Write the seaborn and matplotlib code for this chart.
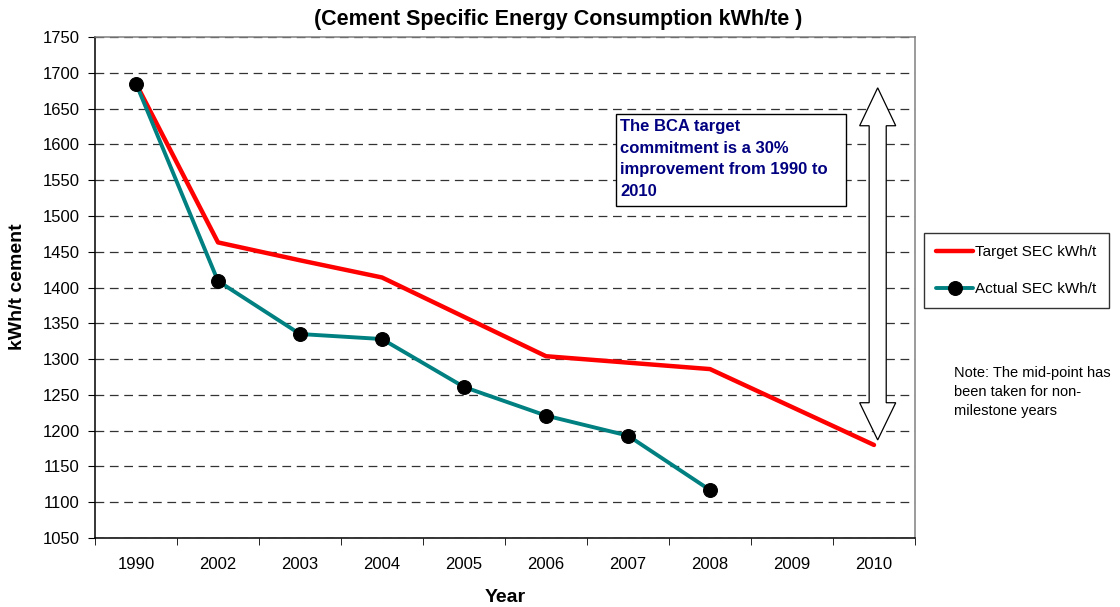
import pandas as pd
import matplotlib
matplotlib.use('Agg')
import matplotlib.pyplot as plt
import seaborn as sns
from matplotlib.patches import Polygon, Rectangle
from matplotlib.ticker import MultipleLocator, FixedLocator

years = ['1990', '2002', '2003', '2004', '2005', '2006', '2007', '2008', '2009', '2010']
target_sec = [1685, 1463, 1438, 1414, 1359, 1304, 1295, 1286, 1233, 1180]
actual_years = ['1990', '2002', '2003', '2004', '2005', '2006', '2007', '2008']
actual_sec = [1685, 1409, 1335, 1328, 1261, 1221, 1193, 1117]

df_target = pd.DataFrame({'Year': years, 'SEC': target_sec})
df_actual = pd.DataFrame({'Year': actual_years, 'SEC': actual_sec})

sns.set_style('white')
plt.rcParams['font.family'] = ['Liberation Sans', 'DejaVu Sans']
plt.rcParams['text.color'] = 'black'
plt.rcParams['xtick.color'] = 'black'
plt.rcParams['ytick.color'] = 'black'

fig = plt.figure(figsize=(11.2, 6.07), dpi=100)
ax = fig.add_axes([95 / 1120, 1 - 538 / 607, 820 / 1120, 501 / 607])

sns.lineplot(data=df_target, x='Year', y='SEC', color='#FF0000', lw=3.2,
             sort=False, label='Target SEC kWh/t', ax=ax)
sns.lineplot(data=df_actual, x='Year', y='SEC', color='#008080', lw=2.8,
             marker='o', markersize=10, markerfacecolor='black',
             markeredgecolor='black', sort=False, label='Actual SEC kWh/t', ax=ax)

ax.set_xlim(-0.5, len(years) - 0.5)
ax.set_ylim(1050, 1750)
ax.yaxis.set_major_locator(MultipleLocator(50))
ax.xaxis.set_minor_locator(FixedLocator([i - 0.5 for i in range(len(years) + 1)]))
ax.tick_params(axis='x', which='major', length=0, pad=14, labelsize=12)
ax.tick_params(axis='x', which='minor', length=5, direction='out', bottom=True)
ax.tick_params(axis='y', length=5, direction='out', pad=6, labelsize=12, left=True)
ax.set_xlabel('')
ax.set_ylabel('')

ax.yaxis.grid(True, color='#333333', lw=0.9, linestyle=(0, (7, 4.5)))
ax.set_axisbelow(True)
for side in ['left', 'bottom']:
    ax.spines[side].set_color('black')
    ax.spines[side].set_linewidth(1.1)
for side in ['top', 'right']:
    ax.spines[side].set_color('#808080')
    ax.spines[side].set_linewidth(1.1)
    ax.spines[side].set_visible(True)

# double headed hollow arrow
c, hw, sw = 9.045, 0.22, 0.104
arrow = Polygon([(c, 1679), (c + hw, 1626), (c + sw, 1626), (c + sw, 1239),
                 (c + hw, 1239), (c, 1187), (c - hw, 1239), (c - sw, 1239),
                 (c - sw, 1626), (c - hw, 1626)],
                closed=True, facecolor='white', edgecolor='black', lw=0.9, zorder=4)
ax.add_patch(arrow)

# text box
fig.patches.append(Rectangle((616 / 1120, 1 - 206 / 607), 230 / 1120, 92 / 607,
                             transform=fig.transFigure, facecolor='white',
                             edgecolor='black', lw=1, zorder=5))
fig.text(620 / 1120, 1 - 119 / 607,
         'The BCA target\ncommitment is a 30%\nimprovement from 1990 to\n2010',
         color='#000080', fontsize=12, fontweight='bold', va='top', ha='left',
         linespacing=1.56, zorder=6)

leg = ax.legend(loc='upper left', bbox_to_anchor=(924 / 1120, 1 - 233 / 607),
                bbox_transform=fig.transFigure, fontsize=11, frameon=True,
                fancybox=False, edgecolor='black', handlelength=2.4,
                handletextpad=0.15, labelspacing=1.5, borderpad=0.8,
                borderaxespad=0)
leg.get_frame().set_linewidth(1)

fig.text(954 / 1120, 1 - 366 / 607,
         'Note: The mid-point has\nbeen taken for non-\nmilestone years',
         fontsize=10.5, va='top', ha='left', linespacing=1.45)

fig.text(558 / 1120, 1 - 20 / 607, '(Cement Specific Energy Consumption kWh/te )',
         fontsize=15.5, fontweight='bold', ha='center', va='center')
fig.text(18 / 1120, 1 - 287 / 607, 'kWh/t cement', fontsize=14, fontweight='bold',
         rotation=90, ha='center', va='center')
fig.text(505 / 1120, 1 - 598 / 607, 'Year', fontsize=14, fontweight='bold',
         ha='center', va='center')

fig.savefig('out.png', dpi=100)
